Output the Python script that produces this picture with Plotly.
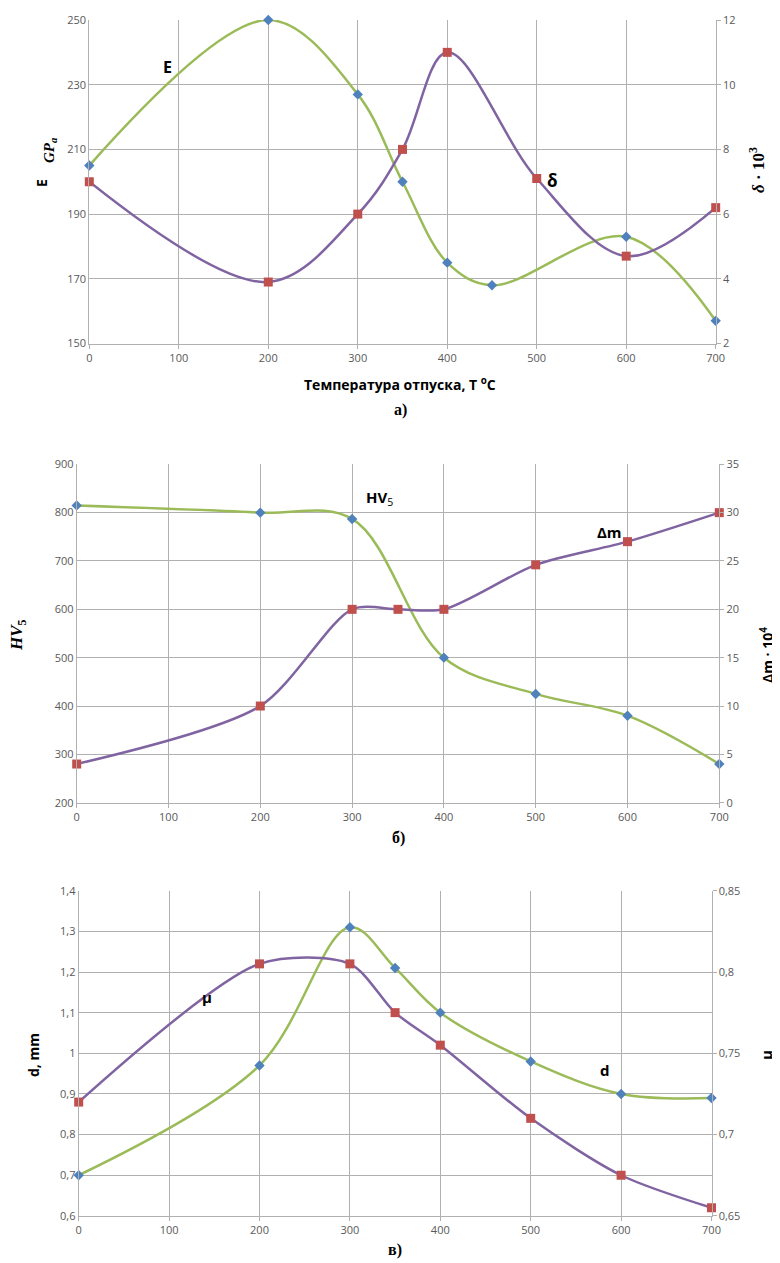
import plotly.graph_objects as go

W, H = 780, 1263
OFF = 8  # page body margin of the browser
FW, FH = W - OFF, H - OFF

# ---------------- data ----------------
# Chart a)
t_E = [0, 200, 300, 350, 400, 450, 600, 700]
E_vals = [205, 250, 227, 200, 175, 168, 183, 157]
t_delta = [0, 200, 300, 350, 400, 500, 600, 700]
delta_vals = [7.0, 3.9, 6.0, 8.0, 11.0, 7.1, 4.7, 6.2]

# Chart б)
t_HV = [0, 200, 300, 400, 500, 600, 700]
HV_vals = [815, 800, 787, 500, 425, 380, 280]
t_dm = [0, 200, 300, 350, 400, 500, 600, 700]
dm_vals = [4, 10, 20, 20, 20, 24.6, 27, 30]

# Chart в)
t_d = [0, 200, 300, 350, 400, 500, 600, 700]
d_vals = [0.70, 0.97, 1.31, 1.21, 1.10, 0.98, 0.90, 0.89]
t_mu = [0, 200, 300, 350, 400, 500, 600, 700]
mu_vals = [0.720, 0.805, 0.805, 0.775, 0.755, 0.710, 0.675, 0.655]

x_ticks = [0, 100, 200, 300, 400, 500, 600, 700]
E_ticks = [150, 170, 190, 210, 230, 250]
delta_ticks = [2, 4, 6, 8, 10, 12]
HV_ticks = [200, 300, 400, 500, 600, 700, 800, 900]
dm_ticks = [0, 5, 10, 15, 20, 25, 30, 35]
d_ticks = [0.6, 0.7, 0.8, 0.9, 1.0, 1.1, 1.2, 1.3, 1.4]
d_ticktext = ["0,6", "0,7", "0,8", "0,9", "1", "1,1", "1,2", "1,3", "1,4"]
mu_ticks = [0.65, 0.7, 0.75, 0.8, 0.85]
mu_ticktext = ["0,65", "0,7", "0,75", "0,8", "0,85"]

# ---------------- style ----------------
GREEN = "#9bbb59"
PURPLE = "#8064a2"
BLUE = "#4f81bd"
RED = "#c0504d"
GRID = "#b0b0b0"
TICKC = "#595959"
TFONT = dict(family="Open Sans, Noto Sans, sans-serif", size=11, color=TICKC)


def px_x(px):
    return (px - OFF) / FW


def px_y(py):
    return 1 - (py - OFF) / FH


# domains (pixel based, page coordinates)
dom = {
    1: dict(x=[px_x(89.3), px_x(715.7)], y=[px_y(343.5), px_y(20)]),
    2: dict(x=[px_x(76.7), px_x(719.3)], y=[px_y(802.7), px_y(464.3)]),
    3: dict(x=[px_x(78.7), px_x(711.5)], y=[px_y(1215.9), px_y(890.7)]),
}

fig = go.Figure()


def green_trace(x, y, xa, ya, sm=1.0):
    fig.add_trace(go.Scatter(
        x=x, y=y, xaxis=xa, yaxis=ya, mode="lines+markers",
        line=dict(color=GREEN, width=2.5, shape="spline", smoothing=sm),
        marker=dict(symbol="diamond", size=8, color=BLUE),
        cliponaxis=False, showlegend=False))


def purple_trace(x, y, xa, ya, sm=1.0):
    fig.add_trace(go.Scatter(
        x=x, y=y, xaxis=xa, yaxis=ya, mode="lines+markers",
        line=dict(color=PURPLE, width=2.5, shape="spline", smoothing=sm),
        marker=dict(symbol="square", size=9, color=RED),
        cliponaxis=False, showlegend=False))


green_trace(t_E, E_vals, "x", "y")
purple_trace(t_delta, delta_vals, "x", "y2")
green_trace(t_HV, HV_vals, "x2", "y3")
purple_trace(t_dm, dm_vals, "x2", "y4", 0.8)
green_trace(t_d, d_vals, "x3", "y5")
purple_trace(t_mu, mu_vals, "x3", "y6", 0.8)

xcommon = dict(range=[0, 700], tickvals=x_ticks, showgrid=True, gridcolor=GRID,
               gridwidth=1, showline=True, linecolor=GRID, linewidth=1,
               ticks="outside", ticklen=4, tickcolor=GRID, tickfont=TFONT,
               zeroline=False, fixedrange=True, automargin=False)
ycommon = dict(showgrid=True, gridcolor=GRID, gridwidth=1, showline=True,
               linecolor=GRID, linewidth=1, ticks="", tickfont=TFONT,
               zeroline=False, fixedrange=True, automargin=False)
y2common = dict(showgrid=False, showline=True, linecolor=GRID, linewidth=1,
                ticks="outside", ticklen=4, tickcolor=GRID, tickfont=TFONT,
                zeroline=False, side="right", fixedrange=True, automargin=False)

fig.update_layout(
    width=FW, height=FH, margin=dict(l=0, r=0, t=0, b=0, autoexpand=False),
    paper_bgcolor="white", plot_bgcolor="white", showlegend=False,
    xaxis=dict(domain=dom[1]["x"], anchor="y", **xcommon),
    yaxis=dict(domain=dom[1]["y"], anchor="x", range=[150, 250], tickvals=E_ticks, **ycommon),
    yaxis2=dict(overlaying="y", anchor="x", range=[2, 12], tickvals=delta_ticks, **y2common),
    xaxis2=dict(domain=dom[2]["x"], anchor="y3", **xcommon),
    yaxis3=dict(domain=dom[2]["y"], anchor="x2", range=[200, 900], tickvals=HV_ticks, **ycommon),
    yaxis4=dict(overlaying="y3", anchor="x2", range=[0, 35], tickvals=dm_ticks, **y2common),
    xaxis3=dict(domain=dom[3]["x"], anchor="y5", **xcommon),
    yaxis5=dict(domain=dom[3]["y"], anchor="x3", range=[0.6, 1.4], tickvals=d_ticks,
                ticktext=d_ticktext, **ycommon),
    yaxis6=dict(overlaying="y5", anchor="x3", range=[0.65, 0.85], tickvals=mu_ticks,
                ticktext=mu_ticktext, **y2common),
)

SANS = "Open Sans, Noto Sans, sans-serif"
SERIF = "Liberation Serif, DejaVu Serif, serif"

ann = []
# series labels (data coords)
ann.append(dict(x=87, y=235.5, xref="x", yref="y", text="<b>E</b>", showarrow=False,
                font=dict(family=SANS, size=16, color="black")))
ann.append(dict(x=518, y=7.05, xref="x", yref="y2", text="<b>δ</b>", showarrow=False,
                font=dict(family=SANS, size=17, color="black")))
ann.append(dict(x=330, y=830, xref="x2", yref="y3", text="<b>HV</b><sub>5</sub>", showarrow=False,
                font=dict(family=SANS, size=15, color="black")))
ann.append(dict(x=580, y=28.0, xref="x2", yref="y4", text="<b>Δm</b>", showarrow=False,
                font=dict(family=SANS, size=15, color="black")))
ann.append(dict(x=142, y=1.139, xref="x3", yref="y5", text="<b>μ</b>", showarrow=False,
                font=dict(family=SANS, size=15, color="black")))
ann.append(dict(x=582, y=0.959, xref="x3", yref="y5", text="<b>d</b>", showarrow=False,
                font=dict(family=SANS, size=15, color="black")))


def pann(px, py, text, size, family, angle=0):
    ann.append(dict(x=px_x(px), y=px_y(py), xref="paper", yref="paper", text=text,
                    showarrow=False, textangle=angle, xanchor="center", yanchor="middle",
                    font=dict(family=family, size=size, color="black")))


# axis titles
pann(42, 183, "<b>E</b>", 14, SANS, -90)
pann(50, 151, "<b><i>GP<sub>a</sub></i></b>", 15, SERIF, -90)
pann(757, 170, "<b><i>δ</i> · 10<sup>3</sup></b>", 17, SERIF, -90)
pann(400, 384, "<b>Температура отпуска, T <sup>o</sup>C</b>", 14, SANS)
pann(400, 410, "<b>а)</b>", 16, SERIF)

pann(18, 635, "<b><i>HV</i><sub>5</sub></b>", 17, SERIF, -90)
pann(767, 655, "<b>Δm · 10<sup>4</sup></b>", 14, SANS, -90)
pann(398, 838, "<b>б)</b>", 16, SERIF)

pann(33, 1055, "<b>d, mm</b>", 14, SANS, -90)
pann(766, 1055, "<b>μ</b>", 15, SANS, -90)
pann(395, 1250, "<b>в)</b>", 16, SERIF)

fig.update_layout(annotations=ann)

fig.write_html("out.html")
